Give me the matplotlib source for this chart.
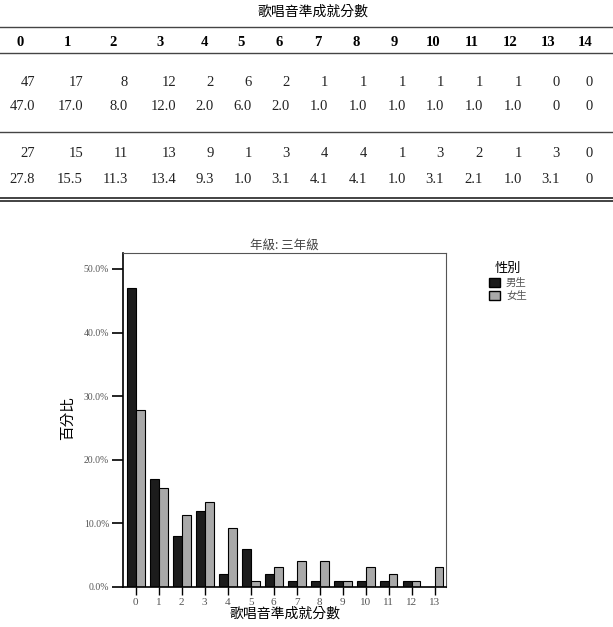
import numpy as np
import matplotlib
matplotlib.use("Agg")
import matplotlib.pyplot as plt
from matplotlib.lines import Line2D
from matplotlib.patches import Patch

plt.rcParams['font.family'] = ['Liberation Serif', 'Noto Sans CJK TC', 'DejaVu Sans']

# data
scores = list(range(15))
male_n = [47, 17, 8, 12, 2, 6, 2, 1, 1, 1, 1, 1, 1, 0, 0]
male_pct = [47.0, 17.0, 8.0, 12.0, 2.0, 6.0, 2.0, 1.0, 1.0, 1.0, 1.0, 1.0, 1.0, 0, 0]
female_n = [27, 15, 11, 13, 9, 1, 3, 4, 4, 1, 3, 2, 1, 3, 0]
female_pct = [27.8, 15.5, 11.3, 13.4, 9.3, 1.0, 3.1, 4.1, 4.1, 1.0, 3.1, 2.1, 1.0, 3.1, 0]
chart_scores = scores[:14]
x_title = '歌唱音準成就分數'
legend_title = '性別'
groups = ['男生', '女生']
colors = ['#1c1c1c', '#a9a9a9']

W, H = 613, 627
fig = plt.figure(figsize=(W / 100, H / 100), dpi=100)

def fx(px):
    return px / W

def fy(py):
    return 1 - py / H

# ---- table on top ----
cjk = ['Noto Sans CJK TC', 'DejaVu Sans']
fig.text(fx(313), fy(12), x_title, ha='center', va='center', fontsize=10, family=cjk)
head_x = [20, 67, 113, 160, 204, 241, 279, 318, 356, 394, 433, 472, 510, 548, 585]
num_x = [35, 83, 128, 176, 214, 252, 290, 328, 367, 406, 444, 483, 522, 560, 593]

def hline(py, lw=1.0, color='#444444'):
    fig.add_artist(Line2D([0, 1], [fy(py), fy(py)], lw=lw, color=color, transform=fig.transFigure))

hline(27)
hline(53)
hline(132)
hline(197.5, lw=1.2, color='#222222')
hline(200.5, lw=1.2, color='#222222')

def fmt(v):
    return '0' if v == 0 else f'{v:.1f}'

for i, s in enumerate(scores):
    fig.text(fx(head_x[i]), fy(42), str(s), ha='center', va='center', fontsize=10.5, weight='bold')
    fig.text(fx(num_x[i]), fy(82), str(male_n[i]), ha='right', va='center', fontsize=10.5, color='#222222')
    fig.text(fx(num_x[i]), fy(107), fmt(male_pct[i]), ha='right', va='center', fontsize=10.5, color='#222222')
    fig.text(fx(num_x[i]), fy(153), str(female_n[i]), ha='right', va='center', fontsize=10.5, color='#222222')
    fig.text(fx(num_x[i]), fy(180), fmt(female_pct[i]), ha='right', va='center', fontsize=10.5, color='#222222')

# ---- bar chart ----
ax = fig.add_axes([fx(123), fy(587), fx(446) - fx(123), fy(253) - fy(587)])
x = np.arange(len(chart_scores))
w = 0.39
ax.bar(x - w / 2, male_pct[:14], width=w, color=colors[0], edgecolor='black', linewidth=0.8)
ax.bar(x + w / 2, female_pct[:14], width=w, color=colors[1], edgecolor='black', linewidth=0.8)
ax.set_xlim(-0.55, 13.5)
ax.set_ylim(0, 52.5)
ax.set_xticks(x)
ax.set_xticklabels([str(s) for s in chart_scores])
ax.set_yticks(np.arange(0, 51, 10))
ax.set_yticklabels([f'{v:.1f}%' for v in np.arange(0, 51, 10)])
ax.tick_params(axis='x', length=6, width=1, labelsize=8, labelcolor='#555555', color='black', pad=2)
ax.tick_params(axis='y', length=8, width=1.2, labelsize=7, labelcolor='#555555', color='black', pad=2)
for side in ['top', 'right']:
    ax.spines[side].set_color('#555555')
for side in ['left', 'bottom']:
    ax.spines[side].set_linewidth(1.2)
ax.set_title('年級: 三年級', fontsize=9, color='#444444', family=cjk, pad=3)
ax.set_xlabel(x_title, fontsize=10, family=cjk, labelpad=0)
fig.text(fx(68), fy(418), '百分比', rotation=90, ha='center', va='center', fontsize=10.5, family=cjk)

handles = [Patch(facecolor=c, edgecolor='black', linewidth=1) for c in colors]
leg = fig.legend(handles, groups, title=legend_title, loc='upper left',
                 bbox_to_anchor=(fx(480), fy(253)), frameon=False,
                 title_fontsize=9.5, handlelength=1.0, handleheight=1.0,
                 handletextpad=0.6, labelspacing=0.25, prop={'family': cjk, 'size': 7.5})
leg.get_title().set_family(cjk)
for t in leg.get_texts():
    t.set_color('#555555')

fig.savefig('out.png', dpi=100)
